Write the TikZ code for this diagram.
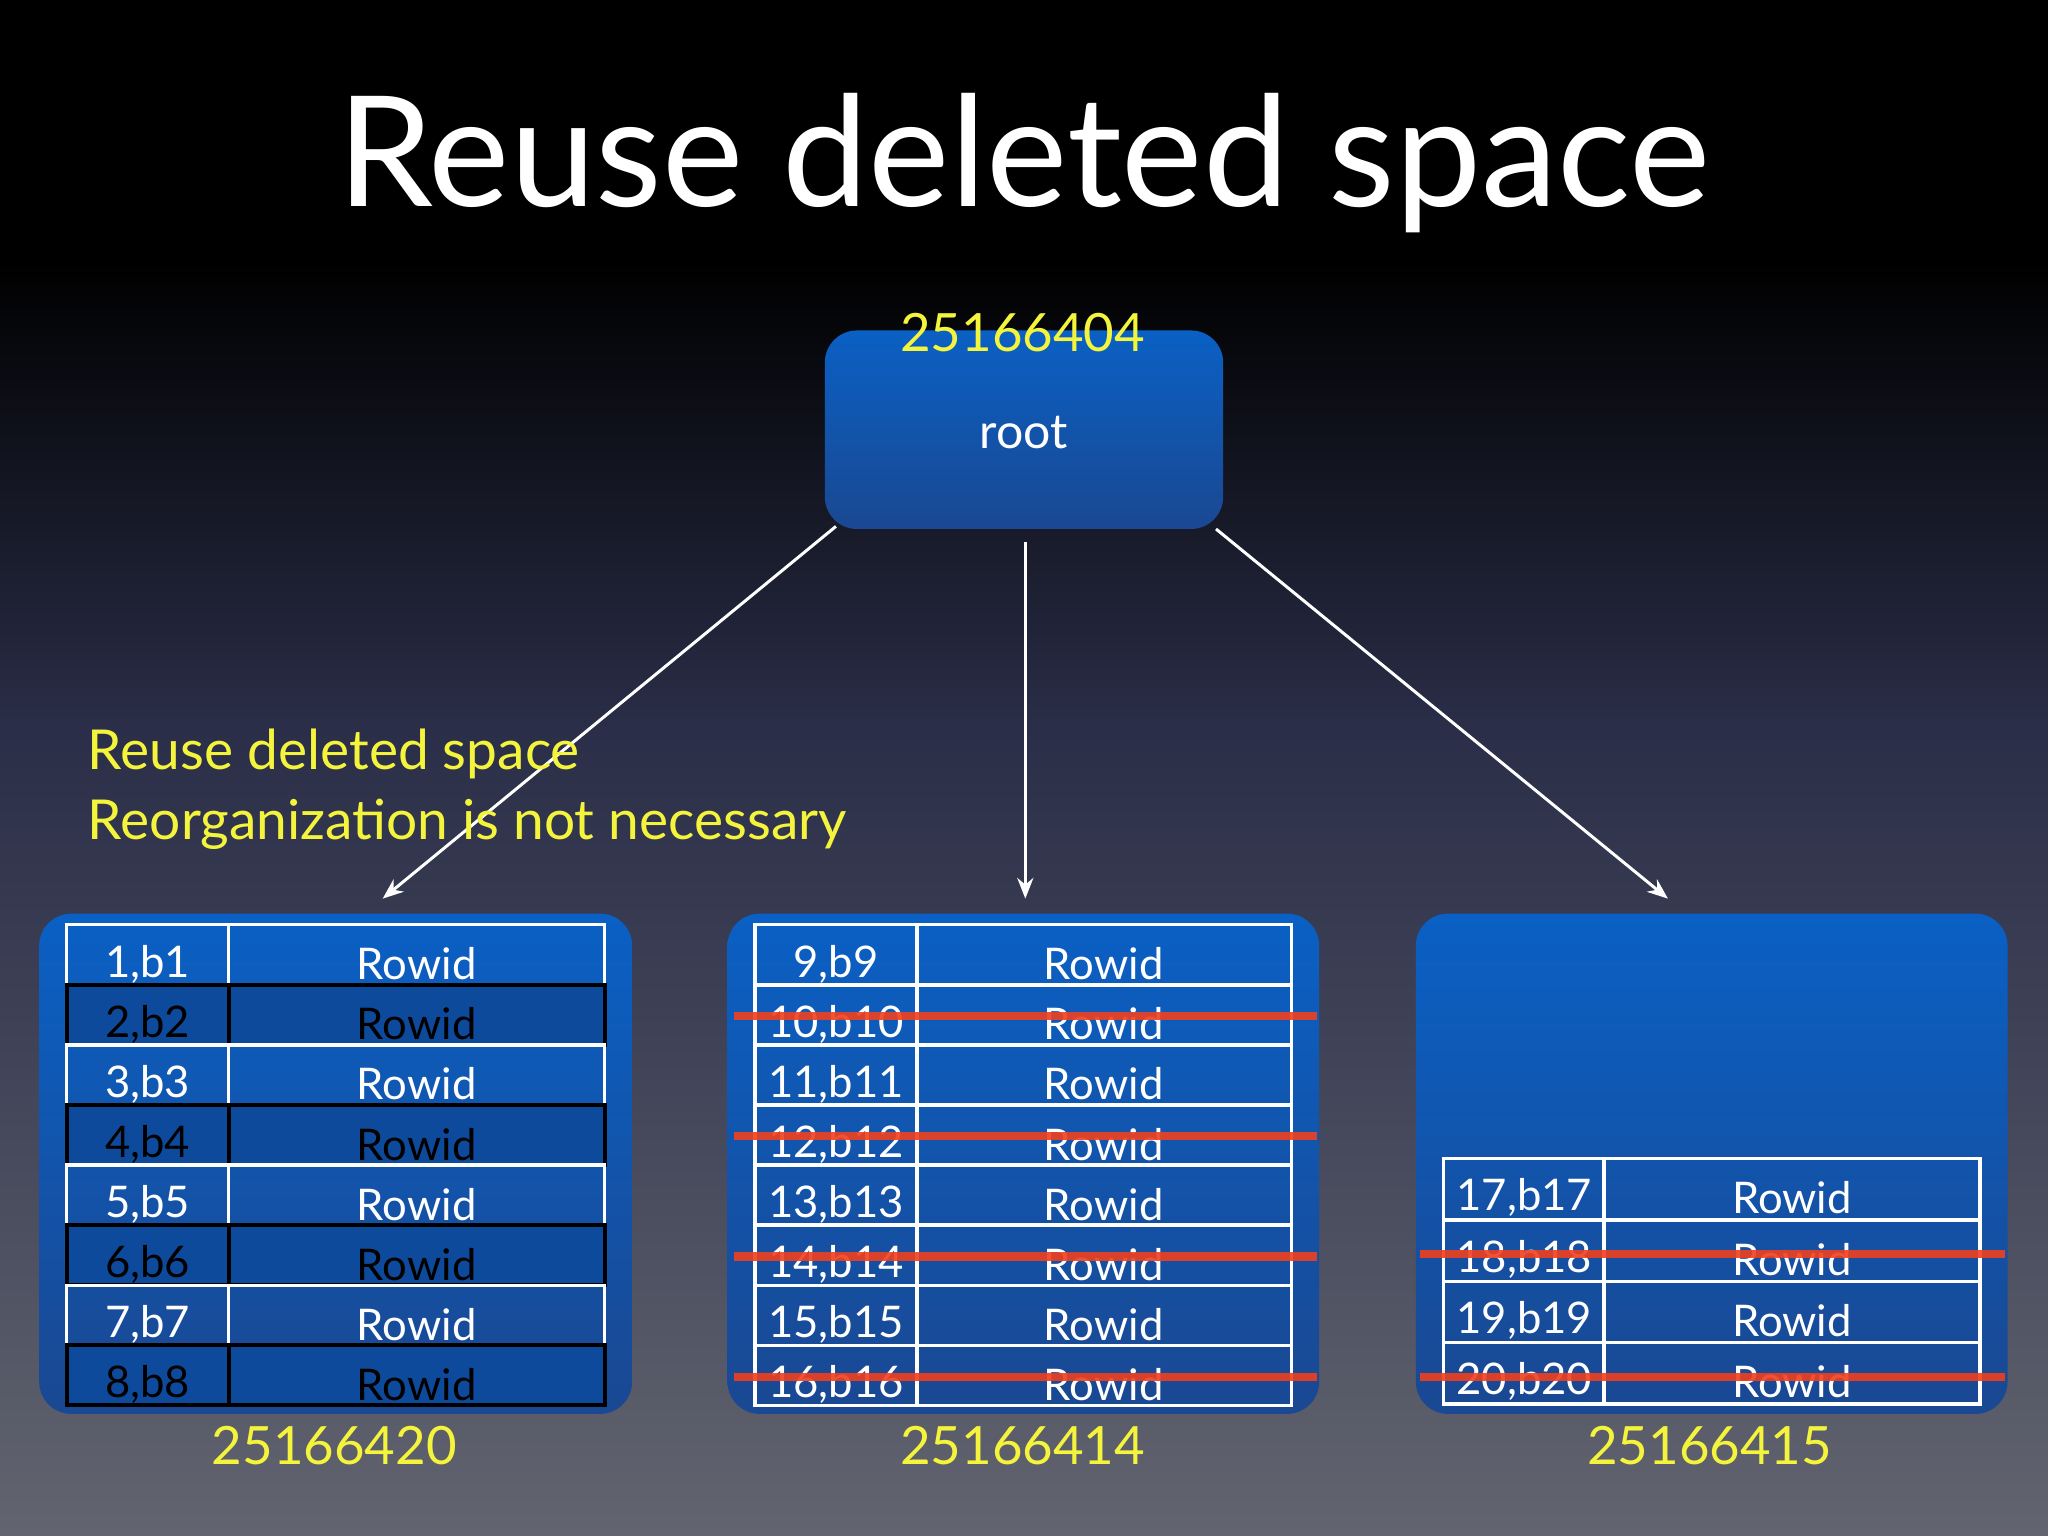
\documentclass[tikz,border=0pt]{standalone}
\usepackage{fontspec}
\setmainfont{Lato}
\usetikzlibrary{arrows.meta}
\definecolor{yel}{HTML}{F4F43C}
\definecolor{bluetop}{HTML}{0A60C4}
\definecolor{bluebot}{HTML}{1A4892}
\definecolor{rowdark}{HTML}{0E4A9C}
\definecolor{strike}{HTML}{F0401E}
\definecolor{bgmid}{HTML}{2A2E48}
\definecolor{bgbot}{HTML}{62646F}
\tikzset{
  box/.style={rounded corners=14pt, top color=bluetop, bottom color=bluebot},
  yl/.style={text=yel, font=\fontsize{23}{25}\selectfont},
  cell/.style={font=\fontsize{19}{21}\selectfont},
  arr/.style={draw=white, line width=1.3pt, -{Stealth[length=9pt,width=7pt]}},
  strk/.style={draw=strike, line width=3.5pt, opacity=0.9}
}
\begin{document}
\begin{tikzpicture}[x=0.02cm,y=-0.02cm]
\fill[black] (0,0) rectangle (1568,200);
\shade[top color=black, bottom color=bgmid] (0,199) rectangle (1568,560);
\shade[top color=bgmid, bottom color=bgbot] (0,559) rectangle (1568,1176);
\node (title) at (784,125) [text=white, font=\fontsize{67}{70}\selectfont] {Reuse deleted space};
% root
\node (root) [box, minimum width=305*0.02cm, minimum height=152*0.02cm] at (784,329) {};
\node (rootlbl) at (784,331) [text=white, font=\fontsize{21}{23}\selectfont] {root};
\node (rootnum) at (783,255) [yl] {25166404};
% leaves
\node (L) [box, minimum width=454*0.02cm, minimum height=383*0.02cm] at (257,891) {};
\node (M) [box, minimum width=453*0.02cm, minimum height=383*0.02cm] at (783.5,891) {};
\node (R) [box, minimum width=453*0.02cm, minimum height=383*0.02cm] at (1310.5,891) {};
\node (Lnum) at (256,1107) [yl] {25166420};
\node (Mnum) at (783,1107) [yl] {25166414};
\node (Rnum) at (1309,1107) [yl] {25166415};
% arrows
\coordinate (a1) at (640,403); \coordinate (t1) at (293,688);
\coordinate (a2) at (785,415); \coordinate (t2) at (785,688);
\coordinate (a3) at (931,405); \coordinate (t3) at (1277,688);
\draw[arr] (a1) -- (t1);
\draw[arr] (a2) -- (t2);
\draw[arr] (a3) -- (t3);
% left table
\foreach \i in {1,...,8}{
  \pgfmathsetmacro\ya{708+(\i-1)*46}
  \pgfmathsetmacro\yb{\ya+46}
  \pgfmathsetmacro\ym{\ya+30}
  \ifodd\i
    \draw[white, line width=1.5pt] (51,\ya) rectangle (463,\yb);
    \draw[white, line width=1.5pt] (175,\ya) -- (175,\yb);
    \node (l\i a) at (113,\ym) [cell, text=white] {\i,b\i};
    \node (l\i b) at (319,\ym) [cell, text=white] {Rowid};
  \else
    \fill[rowdark] (51,\ya) rectangle (463,\yb);
    \draw[black, line width=1.8pt] (51,\ya) rectangle (463,\yb);
    \draw[black, line width=1.8pt] (175,\ya) -- (175,\yb);
    \node (l\i a) at (113,\ym) [cell, text=black] {\i,b\i};
    \node (l\i b) at (319,\ym) [cell, text=black] {Rowid};
  \fi
}
% middle table
\foreach \i in {1,...,8}{
  \pgfmathsetmacro\ya{708+(\i-1)*46}
  \pgfmathsetmacro\yb{\ya+46}
  \pgfmathsetmacro\ym{\ya+30}
  \pgfmathtruncatemacro\n{\i+8}
  \draw[white, line width=1.5pt] (578,\ya) rectangle (989,\yb);
  \draw[white, line width=1.5pt] (702,\ya) -- (702,\yb);
  \node (m\i a) at (640,\ym) [cell, text=white] {\n,b\n};
  \node (m\i b) at (845,\ym) [cell, text=white] {Rowid};
  \ifodd\i\else
    \draw[strk] (562,\ya+24) -- (1008,\ya+24);
  \fi
}
% right table
\foreach \i in {1,...,4}{
  \pgfmathsetmacro\ya{887+(\i-1)*47}
  \pgfmathsetmacro\yb{\ya+47}
  \pgfmathsetmacro\ym{\ya+30}
  \pgfmathtruncatemacro\n{\i+16}
  \draw[white, line width=1.5pt] (1105,\ya) rectangle (1516,\yb);
  \draw[white, line width=1.5pt] (1228,\ya) -- (1228,\yb);
  \node (r\i a) at (1167,\ym) [cell, text=white] {\n,b\n};
  \node (r\i b) at (1372,\ym) [cell, text=white] {Rowid};
  \ifodd\i\else
    \draw[strk] (1087,\ya+26) -- (1535,\ya+26);
  \fi
}
% note
\node (note1) at (67,577) [anchor=west, inner sep=0pt, text=yel, font=\fontsize{24}{26}\selectfont] {Reuse deleted space};
\node (note2) at (67,631) [anchor=west, inner sep=0pt, text=yel, font=\fontsize{24}{26}\selectfont] {Reorganization is not necessary};
\end{tikzpicture}
\end{document}
